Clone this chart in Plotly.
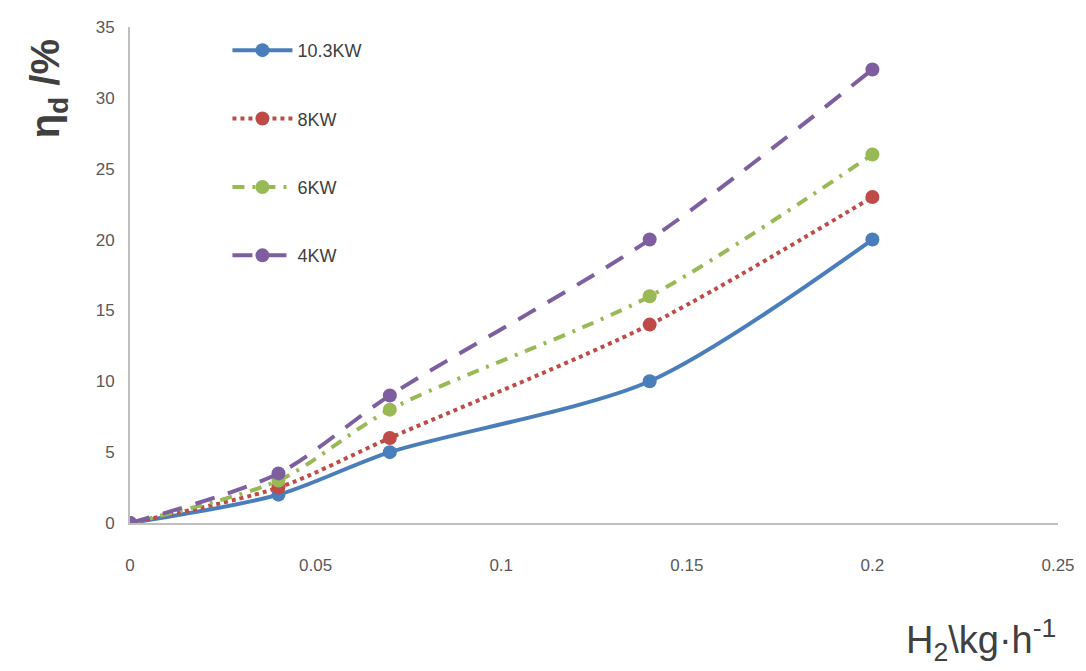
import plotly.graph_objects as go

x_vals = [0, 0.04, 0.07, 0.14, 0.2]
series_names = ["10.3KW", "8KW", "6KW", "4KW"]
y_103 = [0, 2.0, 5.0, 10.0, 20.0]
y_8 = [0, 2.5, 6.0, 14.0, 23.0]
y_6 = [0, 3.0, 8.0, 16.0, 26.0]
y_4 = [0, 3.5, 9.0, 20.0, 32.0]
x_ticks = [0, 0.05, 0.1, 0.15, 0.2, 0.25]
x_tick_labels = ["0", "0.05", "0.1", "0.15", "0.2", "0.25"]
y_ticks = [0, 5, 10, 15, 20, 25, 30, 35]

colors = ["#4A7EBB", "#BE4B48", "#98B954", "#7D5FA0"]
dashes = ["solid", "dot", "12px,8px,3px,8px", "20px,14px"]
ys = [y_103, y_8, y_6, y_4]

fig = go.Figure()
for i, (name, y) in enumerate(zip(series_names, ys)):
    fig.add_trace(go.Scatter(
        x=x_vals, y=y, name=name, mode="lines+markers",
        line=dict(color=colors[i], width=4, dash=dashes[i], shape="spline", smoothing=0.8),
        marker=dict(color=colors[i], size=14),
        legendgroup=f"g{i}",
    ))

fig.update_layout(
    width=1086, height=671,
    margin=dict(l=130, r=28, t=27, b=148),
    paper_bgcolor="white", plot_bgcolor="white",
    font=dict(family="Liberation Sans, Arial, sans-serif", color="#595959", size=17),
    showlegend=True,
    legend=dict(
        x=0.105, y=0.99, xanchor="left", yanchor="top",
        font=dict(size=18, color="#404040"),
        tracegroupgap=42, itemwidth=60, bgcolor="rgba(0,0,0,0)",
    ),
    xaxis=dict(
        range=[0, 0.25], tickvals=x_ticks, ticktext=x_tick_labels,
        showgrid=False, zeroline=False, showline=True, linecolor="#BFBFBF", linewidth=2,
        ticks="", ticklabelstandoff=26,
    ),
    yaxis=dict(
        range=[0, 35], tickvals=y_ticks, showgrid=False, zeroline=False,
        showline=True, linecolor="#BFBFBF", linewidth=2, ticks="", ticklabelstandoff=10,
    ),
    annotations=[
        dict(text="<b>η<sub>d</sub> /%</b>", xref="paper", yref="paper", x=-0.088, y=0.875,
             xanchor="center", yanchor="middle", textangle=-90, showarrow=False,
             font=dict(size=40, color="#404040", family="Liberation Sans, Arial, sans-serif")),
        dict(text="H<sub>2</sub>\\kg·h<sup>-1</sup>", xref="paper", yref="paper", x=1.0, y=-0.235,
             xanchor="right", yanchor="middle", showarrow=False,
             font=dict(size=38, color="#404040", family="Liberation Sans, Arial, sans-serif")),
    ],
)

fig.write_html("out.html")
